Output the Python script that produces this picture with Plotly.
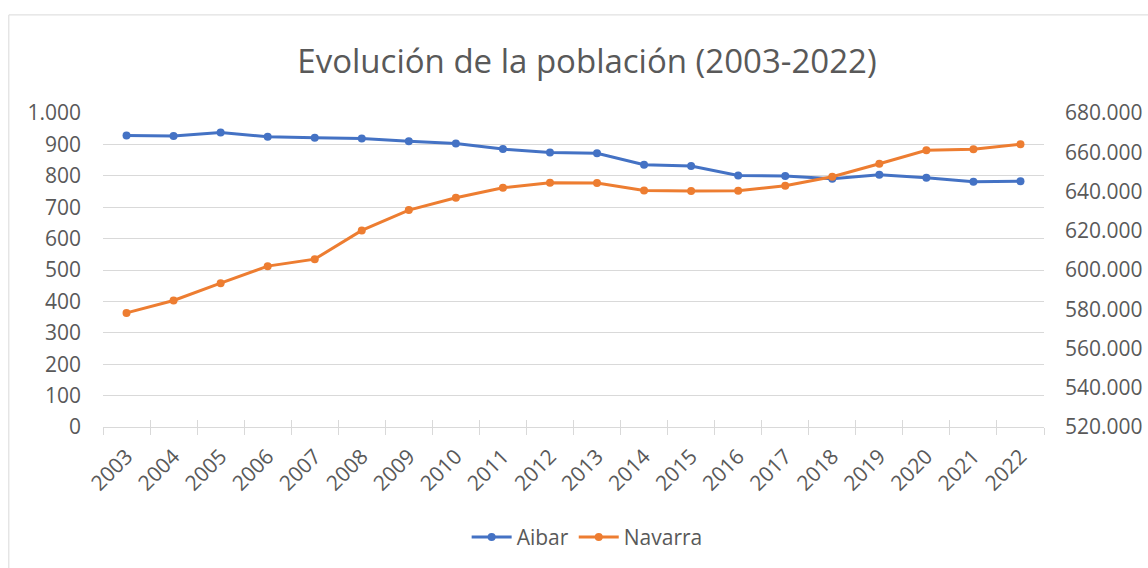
import plotly.graph_objects as go

# Population series, 2003-2022
years = [str(y) for y in range(2003, 2023)]
aibar = [928, 927, 938, 924, 921, 919, 910, 903, 885, 874,
         872, 835, 831, 801, 799, 791, 803, 794, 781, 783]
navarra = [578150, 584470, 593300, 601970, 605540, 620170, 630530, 636800,
           641900, 644450, 644300, 640570, 640220, 640370, 642920, 647510,
           654140, 660970, 661490, 664030]

left_ticks = list(range(0, 1001, 100))
right_ticks = list(range(520000, 680001, 20000))

BLUE = "#4472C4"
ORANGE = "#ED7D31"
GRID = "#D9D9D9"
TEXT = "#595959"
FONT = "Open Sans"

fig = go.Figure()
fig.add_trace(go.Scatter(
    x=years, y=aibar, name="Aibar", mode="lines+markers",
    line=dict(color=BLUE, width=3), marker=dict(size=8, color=BLUE),
    yaxis="y",
))
fig.add_trace(go.Scatter(
    x=years, y=navarra, name="Navarra", mode="lines+markers",
    line=dict(color=ORANGE, width=3), marker=dict(size=8, color=ORANGE),
    yaxis="y2",
))
# helper trace on an overlaid x axis for the upward half of the tick marks
fig.add_trace(go.Scatter(
    x=years, y=[None] * len(years), xaxis="x2", yaxis="y",
    showlegend=False, hoverinfo="skip",
))

L, R, T, B = 102.7, 104, 113, 141.3
W, H = 1148, 568
pw, ph = W - L - R, H - T - B

fig.update_layout(
    width=W, height=H,
    margin=dict(l=L, r=R, t=T, b=B, pad=0, autoexpand=False),
    paper_bgcolor="white", plot_bgcolor="white",
    separators=",.",
    font=dict(family=FONT, color=TEXT, size=21),
    title=dict(
        text="Evolución de la población (2003-2022)",
        x=587 / W, xanchor="center", y=1 - 61 / H, yanchor="middle",
        yref="container", xref="container",
        font=dict(family=FONT, size=33, color=TEXT),
    ),
    xaxis=dict(
        type="category", categoryorder="array", categoryarray=years,
        range=[-0.5, len(years) - 0.5], automargin=False,
        showgrid=False, showline=True, linecolor=GRID, linewidth=1,
        ticks="outside", ticklen=7, tickcolor=GRID, tickwidth=1,
        tickson="boundaries", tickangle=-45,
        ticklabelstandoff=8,
        tickfont=dict(family=FONT, size=21, color=TEXT),
        zeroline=False,
    ),
    xaxis2=dict(
        type="category", categoryorder="array", categoryarray=years,
        range=[-0.5, len(years) - 0.5], overlaying="x", anchor="y",
        side="bottom", showgrid=False, showline=False, automargin=False,
        ticks="inside", ticklen=7, tickcolor=GRID, tickwidth=1,
        tickson="boundaries", showticklabels=False, zeroline=False,
    ),
    yaxis=dict(
        range=[0, 1000], tickvals=left_ticks, tickformat=",d",
        showgrid=True, gridcolor=GRID, gridwidth=1.3, automargin=False,
        showline=False, zeroline=False, ticks="",
        ticklabelstandoff=21,
        tickfont=dict(family=FONT, size=21, color=TEXT),
    ),
    yaxis2=dict(
        range=[520000, 680000], tickvals=right_ticks, tickformat=",d",
        overlaying="y", side="right", anchor="x", automargin=False,
        showgrid=False, showline=False, zeroline=False, ticks="",
        ticklabelstandoff=20,
        tickfont=dict(family=FONT, size=21, color=TEXT),
    ),
    legend=dict(
        orientation="h", xref="paper", yref="paper",
        x=(587 - L) / pw, xanchor="center",
        y=(H - B - 537) / ph, yanchor="middle",
        font=dict(family=FONT, size=21, color=TEXT),
        bgcolor="rgba(0,0,0,0)", itemwidth=40,
    ),
    shapes=[dict(
        type="rect", xref="paper", yref="paper",
        x0=(8.5 - L) / pw, x1=1.3,
        y0=-0.7, y1=(H - B - 15) / ph,
        line=dict(color=GRID, width=1), fillcolor="rgba(0,0,0,0)",
        layer="below",
    )],
)

fig.write_html("out.html")
